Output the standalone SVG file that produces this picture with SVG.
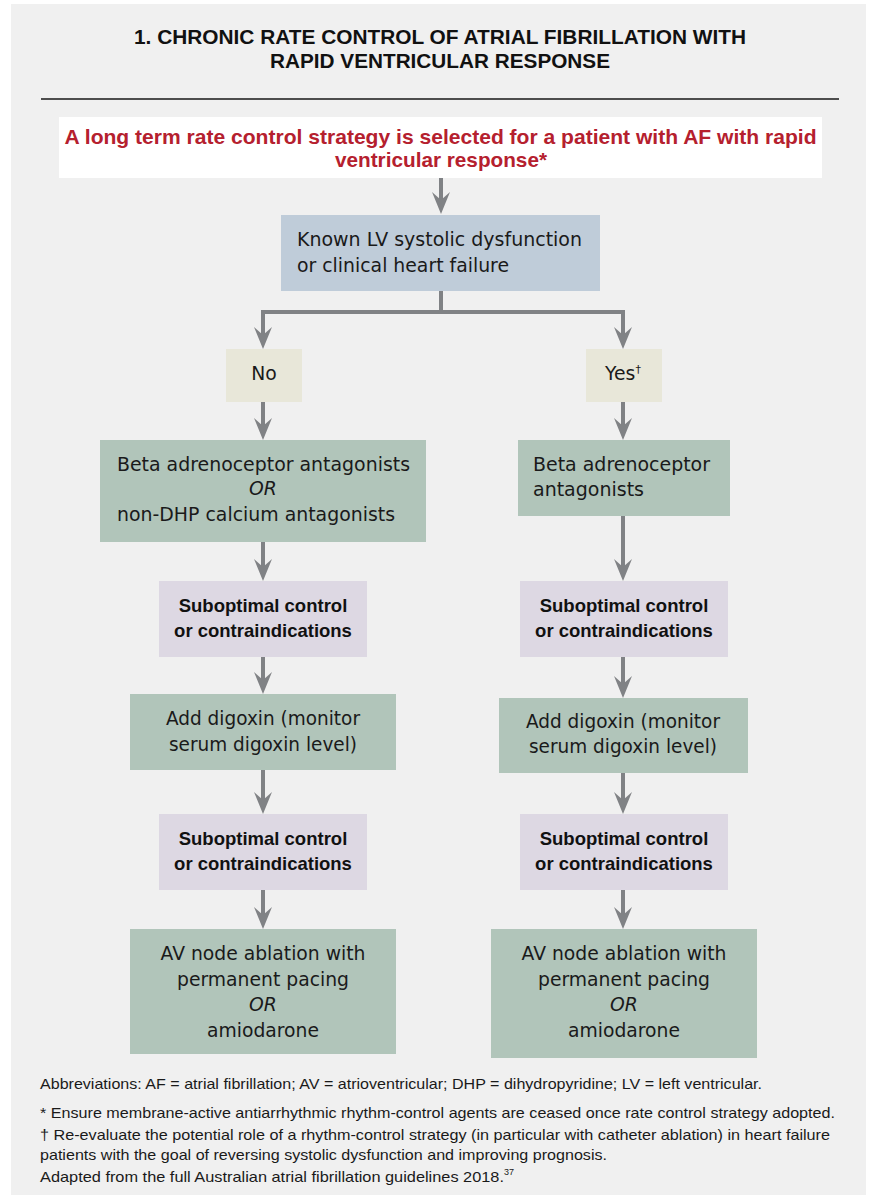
<svg xmlns="http://www.w3.org/2000/svg" width="870" height="1195" viewBox="0 0 870 1195">
<defs>
<style>
.title{font-family:"Liberation Sans",Arial,sans-serif;font-weight:bold;font-size:20px;fill:#111;text-anchor:middle}
.red{font-family:"Liberation Sans",Arial,sans-serif;font-weight:bold;font-size:20.5px;fill:#b5202e;text-anchor:middle}
.t{font-family:"DejaVu Sans","Liberation Sans",sans-serif;font-size:18.8px;fill:#1a1a1a}
.c{text-anchor:middle}
.i{font-style:italic}
.b{font-family:"Liberation Sans",Arial,sans-serif;font-weight:bold;font-size:18.5px;fill:#111;text-anchor:middle}
.fn{font-family:"Liberation Sans",Arial,sans-serif;font-size:15px;fill:#1a1a1a}
.blue{fill:#bfccd9}
.beige{fill:#e8e7d9}
.green{fill:#b1c5ba}
.purple{fill:#ddd8e3}
.conn{fill:none;stroke:#808285;stroke-width:4;stroke-linejoin:miter;marker-end:url(#ah)}
</style>
<marker id="ah" markerUnits="userSpaceOnUse" markerWidth="24" markerHeight="20" viewBox="0 -10 24 20" refX="10" refY="0" orient="auto">
<path d="M0,-9 L22,0 L0,9 L8,0 Z" fill="#808285"/>
</marker>
</defs>
<rect x="11" y="4" width="855" height="1191" fill="#f0f0f0"/>
<g id="title">
<text class="title" x="440" y="44" textLength="612" lengthAdjust="spacingAndGlyphs">1. CHRONIC RATE CONTROL OF ATRIAL FIBRILLATION WITH</text>
<text class="title" x="440" y="68" textLength="340" lengthAdjust="spacingAndGlyphs">RAPID VENTRICULAR RESPONSE</text>
<line x1="41" y1="99" x2="839" y2="99" stroke="#4d4d4d" stroke-width="2"/>
</g>
<g id="connectors">
<path class="conn" d="M441,178 V202"/>
<path class="conn" d="M441,291 V312 H263 V337"/>
<path class="conn" d="M441,312 H623 V337"/>
<path class="conn" d="M263,402 V428"/>
<path class="conn" d="M623,402 V428"/>
<path class="conn" d="M263,542 V569"/>
<path class="conn" d="M263,657 V682"/>
<path class="conn" d="M263,770 V802"/>
<path class="conn" d="M263,890 V917"/>
<path class="conn" d="M623,516 V569"/>
<path class="conn" d="M623,657 V686"/>
<path class="conn" d="M623,773 V802"/>
<path class="conn" d="M623,890 V917"/>
</g>
<g id="start">
<rect x="59" y="117" width="763" height="61" fill="#ffffff"/>
<text class="red" x="440.5" y="144" textLength="752" lengthAdjust="spacingAndGlyphs">A long term rate control strategy is selected for a patient with AF with rapid</text>
<text class="red" x="441" y="167" textLength="212" lengthAdjust="spacingAndGlyphs">ventricular response*</text>
</g>
<g id="lv">
<rect class="blue" x="281" y="215" width="319" height="76"/>
<text class="t" x="297" y="246" textLength="285" lengthAdjust="spacingAndGlyphs">Known LV systolic dysfunction</text>
<text class="t" x="297" y="272" textLength="212" lengthAdjust="spacingAndGlyphs">or clinical heart failure</text>
</g>
<g id="no">
<rect class="beige" x="226" y="349" width="76" height="53"/>
<text class="t c" x="264" y="380">No</text>
</g>
<g id="yes">
<rect class="beige" x="586" y="349" width="76" height="53"/>
<text class="t c" x="623" y="380">Yes<tspan font-size="11" dy="-7">†</tspan></text>
</g>
<g id="left-beta">
<rect class="green" x="100" y="440" width="326" height="102"/>
<text class="t" x="117" y="471" textLength="293" lengthAdjust="spacingAndGlyphs">Beta adrenoceptor antagonists</text>
<text class="t c i" x="263" y="495">OR</text>
<text class="t" x="117" y="521" textLength="278" lengthAdjust="spacingAndGlyphs">non-DHP calcium antagonists</text>
</g>
<g id="left-sub1">
<rect class="purple" x="159" y="581" width="208" height="76"/>
<text class="b" x="263" y="612">Suboptimal control</text>
<text class="b" x="263" y="637">or contraindications</text>
</g>
<g id="left-dig">
<rect class="green" x="130" y="694" width="266" height="76"/>
<text class="t c" x="263" y="725" textLength="194" lengthAdjust="spacingAndGlyphs">Add digoxin (monitor</text>
<text class="t c" x="263" y="751" textLength="188" lengthAdjust="spacingAndGlyphs">serum digoxin level)</text>
</g>
<g id="left-sub2">
<rect class="purple" x="159" y="814" width="208" height="76"/>
<text class="b" x="263" y="845">Suboptimal control</text>
<text class="b" x="263" y="870">or contraindications</text>
</g>
<g id="left-av">
<rect class="green" x="130" y="929" width="266" height="125"/>
<text class="t c" x="263" y="960" textLength="205" lengthAdjust="spacingAndGlyphs">AV node ablation with</text>
<text class="t c" x="263" y="986" textLength="172" lengthAdjust="spacingAndGlyphs">permanent pacing</text>
<text class="t c i" x="263" y="1011">OR</text>
<text class="t c" x="263" y="1037" textLength="112" lengthAdjust="spacingAndGlyphs">amiodarone</text>
</g>
<g id="right-beta">
<rect class="green" x="518" y="440" width="212" height="76"/>
<text class="t" x="533" y="471" textLength="177" lengthAdjust="spacingAndGlyphs">Beta adrenoceptor</text>
<text class="t" x="533" y="496" textLength="111" lengthAdjust="spacingAndGlyphs">antagonists</text>
</g>
<g id="right-sub1">
<rect class="purple" x="520" y="581" width="208" height="76"/>
<text class="b" x="624" y="612">Suboptimal control</text>
<text class="b" x="624" y="637">or contraindications</text>
</g>
<g id="right-dig">
<rect class="green" x="499" y="698" width="249" height="75"/>
<text class="t c" x="623" y="728" textLength="194" lengthAdjust="spacingAndGlyphs">Add digoxin (monitor</text>
<text class="t c" x="623" y="753" textLength="188" lengthAdjust="spacingAndGlyphs">serum digoxin level)</text>
</g>
<g id="right-sub2">
<rect class="purple" x="520" y="814" width="208" height="76"/>
<text class="b" x="624" y="845">Suboptimal control</text>
<text class="b" x="624" y="870">or contraindications</text>
</g>
<g id="right-av">
<rect class="green" x="491" y="929" width="266" height="129"/>
<text class="t c" x="624" y="960" textLength="205" lengthAdjust="spacingAndGlyphs">AV node ablation with</text>
<text class="t c" x="624" y="986" textLength="172" lengthAdjust="spacingAndGlyphs">permanent pacing</text>
<text class="t c i" x="624" y="1011">OR</text>
<text class="t c" x="624" y="1037" textLength="112" lengthAdjust="spacingAndGlyphs">amiodarone</text>
</g>
<g id="footnotes">
<text class="fn" x="40" y="1089" textLength="722" lengthAdjust="spacingAndGlyphs">Abbreviations: AF = atrial fibrillation; AV = atrioventricular; DHP = dihydropyridine; LV = left ventricular.</text>
<text class="fn" x="40" y="1118" textLength="795" lengthAdjust="spacingAndGlyphs">* Ensure membrane-active antiarrhythmic rhythm-control agents are ceased once rate control strategy adopted.</text>
<text class="fn" x="40" y="1140" textLength="790" lengthAdjust="spacingAndGlyphs">† Re-evaluate the potential role of a rhythm-control strategy (in particular with catheter ablation) in heart failure</text>
<text class="fn" x="40" y="1160" textLength="567" lengthAdjust="spacingAndGlyphs">patients with the goal of reversing systolic dysfunction and improving prognosis.</text>
<text class="fn" x="40" y="1181.5"><tspan textLength="464" lengthAdjust="spacingAndGlyphs">Adapted from the full Australian atrial fibrillation guidelines 2018.</tspan><tspan font-size="9" dy="-7">37</tspan></text>
</g>
</svg>
